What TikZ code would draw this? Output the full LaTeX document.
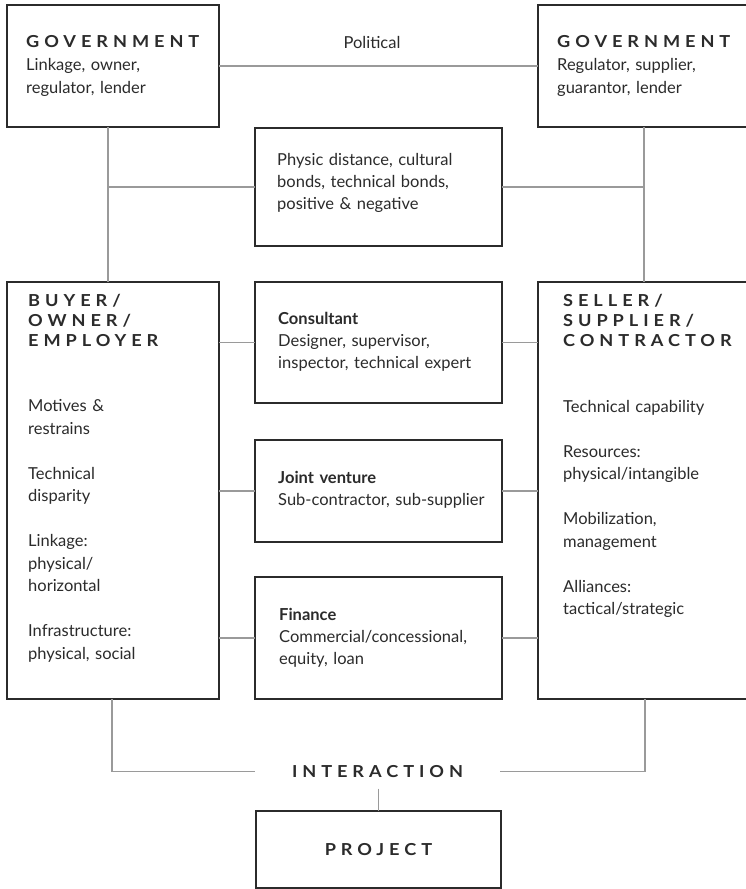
\documentclass[tikz,border=0pt]{standalone}
\usepackage{fontspec}
\setmainfont{Lato}
\newfontfamily\hfont{Lato}[LetterSpace=30, FakeStretch=1.1]
\definecolor{ink}{HTML}{2B2B2B}
\definecolor{wirec}{HTML}{9A9A9A}
\newcommand\hd[1]{{\hfont\bfseries\fontsize{16.5}{20}\selectfont #1}}
\begin{document}
\begin{tikzpicture}[x=1pt,y=-1pt,
  box/.style={draw=ink, line width=2.4pt, rectangle, inner sep=0pt, outer sep=0pt, anchor=north west},
  wire/.style={draw=wirec, line width=1.3pt},
  body/.style={text=ink, inner sep=0pt, anchor=base west, text width=230pt, align=left, font={\fontsize{16.5}{22.5}\selectfont}},
  lbl/.style={text=ink, font={\fontsize{16.5}{22.5}\selectfont}}
]
\useasboundingbox (0,0) rectangle (746,889);
\clip (0,0) rectangle (746,889);
\fill[white] (0,0) rectangle (746,889);
% boxes
\node[box, minimum width=212pt, minimum height=122pt] (govL) at (7,5) {};
\node[box, minimum width=222pt, minimum height=122pt] (govR) at (538,5) {};
\node[box, minimum width=247pt, minimum height=118pt] (mid) at (255,128) {};
\node[box, minimum width=212pt, minimum height=417pt] (buyer) at (7,282) {};
\node[box, minimum width=247pt, minimum height=121pt] (cons) at (255,282) {};
\node[box, minimum width=222pt, minimum height=417pt] (seller) at (538,282) {};
\node[box, minimum width=247pt, minimum height=102pt] (jv) at (255,440) {};
\node[box, minimum width=247pt, minimum height=122pt] (fin) at (255,577) {};
\node[box, minimum width=245pt, minimum height=77pt, text=ink] (proj) at (256,811) {\hd{PROJECT}};
% interaction label
\node[lbl, minimum width=245pt, inner xsep=0pt, inner ysep=10.7pt] (inter) at (377.5,771.5) {\hd{INTERACTION}};
% connector helpers
\coordinate (vL) at (108,0);
\coordinate (vR) at (644,0);
\coordinate (bL) at (112,0);
\coordinate (bR) at (645,0);
% connectors
\draw[wire] (govL.east) -- (govR.west);
\draw[wire] (govL.south -| vL) -- (buyer.north -| vL);
\draw[wire] (govR.south -| vR) -- (seller.north -| vR);
\draw[wire] (mid.west) -- (mid.west -| vL);
\draw[wire] (mid.east) -- (mid.east -| vR);
\draw[wire] (cons.west) -- (cons.west -| buyer.east);
\draw[wire] (cons.east) -- (cons.east -| seller.west);
\draw[wire] (jv.west) -- (jv.west -| buyer.east);
\draw[wire] (jv.east) -- (jv.east -| seller.west);
\draw[wire] (fin.west) -- (fin.west -| buyer.east);
\draw[wire] (fin.east) -- (fin.east -| seller.west);
\draw[wire] (buyer.south -| bL) |- (inter.west);
\draw[wire] (seller.south -| bR) |- (inter.east);
\draw[wire] (inter.south -| proj.north) -- (proj.north);
% texts
\node[lbl, anchor=base, inner sep=0pt] (pol) at (372,48) {Political};
\node[body] (tgL) at (26,47) {\hd{GOVERNMENT}\\[1pt] Linkage, owner,\\ regulator, lender};
\node[body] (tgR) at (557,47) {\hd{GOVERNMENT}\\[1pt] Regulator, supplier,\\ guarantor, lender};
\node[body] (tmid) at (277,165) {Physic distance, cultural\\[-0.5pt] bonds, technical bonds,\\[-0.5pt] positive \& negative};
\node[body] (tbuy) at (28,306) {\hd{BUYER/}\\[-2.5pt]\hd{OWNER/}\\[-2.5pt]\hd{EMPLOYER}\\[43pt]
  Motives \&\\ restrains\\[22.5pt] Technical\\ disparity\\[22.5pt] Linkage:\\ physical/\\ horizontal\\[22.5pt] Infrastructure:\\ physical, social};
\node[body] (tsel) at (563,306) {\hd{SELLER/}\\[-2.5pt]\hd{SUPPLIER/}\\[-2.5pt]\hd{CONTRACTOR}\\[43.5pt]
  Technical capability\\[22.5pt] Resources:\\ physical/intangible\\[22.5pt] Mobilization,\\ management\\[22.5pt] Alliances:\\ tactical/strategic};
\node[body] (tcons) at (278,324) {\textbf{Consultant}\\[-0.5pt] Designer, supervisor,\\[-0.5pt] inspector, technical expert};
\node[body] (tjv) at (278,483.5) {\textbf{Joint venture}\\[-1pt] Sub-contractor, sub-supplier};
\node[body] (tfin) at (279,620) {\textbf{Finance}\\[-0.5pt] Commercial/concessional,\\[-0.5pt] equity, loan};
\end{tikzpicture}
\end{document}
